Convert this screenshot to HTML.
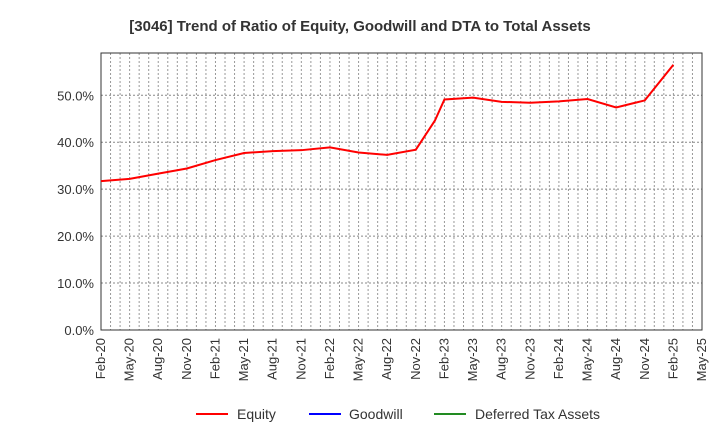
<!DOCTYPE html>
<html><head><meta charset="utf-8"><style>
body{margin:0;background:#fff;font-family:"Liberation Sans",sans-serif}
</style></head><body>
<svg id="c" width="720" height="440" xmlns="http://www.w3.org/2000/svg">
<text x="360" y="31" text-anchor="middle" font-size="15" font-weight="bold" fill="#333">[3046]  Trend of Ratio of Equity, Goodwill and DTA to Total Assets</text>
<g id="grid"></g><g id="axes"></g><g id="series"></g>
<g font-size="14" fill="#333">
<line x1="196" y1="414" x2="228" y2="414" stroke="#f00" stroke-width="2"/><text x="237" y="419">Equity</text>
<line x1="309" y1="414" x2="341" y2="414" stroke="#00f" stroke-width="2"/><text x="349" y="419">Goodwill</text>
<line x1="434" y1="414" x2="466" y2="414" stroke="#228b22" stroke-width="2"/><text x="475" y="419">Deferred Tax Assets</text>
</g>
</svg>
<script>
const tickLabels=["Feb-20","May-20","Aug-20","Nov-20","Feb-21","May-21","Aug-21","Nov-21","Feb-22","May-22","Aug-22","Nov-22","Feb-23","May-23","Aug-23","Nov-23","Feb-24","May-24","Aug-24","Nov-24","Feb-25","May-25"];
const yTicks=[0,10,20,30,40,50];
const monthIdx=[0,3,6,9,12,15,18,21,24,27,30,33,35,36,39,42,45,48,51,54,57,60];
const equity=[31.7,32.2,33.3,34.4,36.2,37.7,38.1,38.3,38.9,37.8,37.3,38.4,44.6,49.1,49.5,48.6,48.4,48.7,49.2,47.4,48.9,56.5];
const L=101,R=702,T=53,B=330,NM=63;
const x=m=>L+(R-L)*m/NM, y=v=>B-(B-T)*v/59;
const ns="http://www.w3.org/2000/svg";
function mk(p,t,a){const e=document.createElementNS(ns,t);for(const k in a)e.setAttribute(k,a[k]);document.getElementById(p).appendChild(e);return e;}
for(let m=1;m<NM;m++){const l=mk('grid','line',{x1:x(m),x2:x(m),y1:T,y2:B,stroke:'#999','stroke-dasharray':'2,2','stroke-width':1});

}
yTicks.forEach(v=>{if(v>0){const g=mk('grid','line',{x1:L,x2:R,y1:y(v),y2:y(v),stroke:'#888','stroke-dasharray':'2,2'});

}
const t=mk('axes','text',{x:L-7,y:y(v)+5,'text-anchor':'end','font-size':13,fill:'#333'});t.textContent=v.toFixed(1)+'%';

});
const fr=mk('axes','rect',{x:L,y:T,width:R-L,height:B-T,fill:'none',stroke:'#333','stroke-width':1});


tickLabels.forEach((s,i)=>{const xx=x(i*3);const t=mk('axes','text',{x:xx+4,y:B+8,'text-anchor':'end','font-size':13,fill:'#333',transform:`rotate(-90 ${xx+4} ${B+8})`});t.textContent=s;

});
const p=mk('series','polyline',{points:equity.map((v,i)=>x(monthIdx[i])+','+y(v)).join(' '),fill:'none',stroke:'#f00','stroke-width':2});


</script>
</body></html>
